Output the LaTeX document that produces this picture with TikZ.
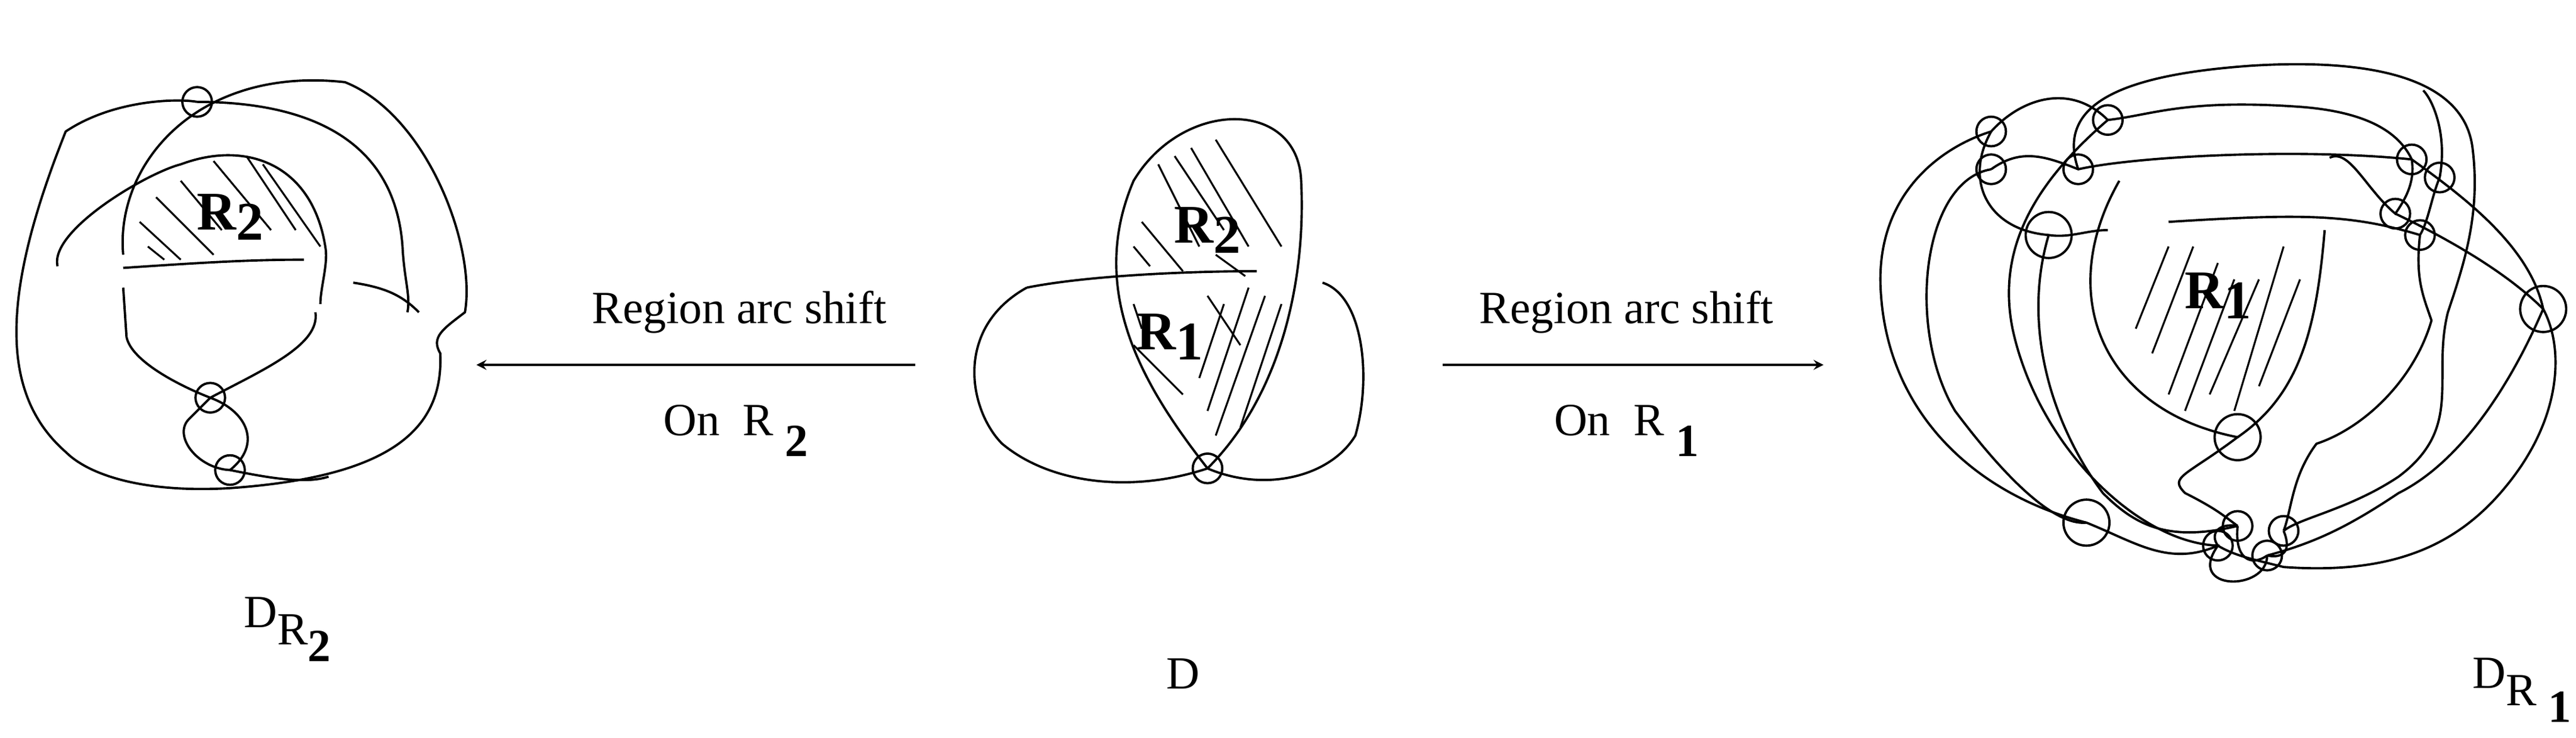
\documentclass[tikz,border=0pt]{standalone}
\usepackage{fontspec}
\setmainfont{Liberation Serif}
\begin{document}
\begin{tikzpicture}[x=0.02757cm,y=-0.02757cm,line width=1.1pt,
  lbl/.style={font=\fontsize{22}{26}\selectfont},
  rl/.style={font=\bfseries\fontsize{26}{30}\selectfont},
  hatch/.style={line width=0.9pt}]
\useasboundingbox (0,0) rectangle (1568,449);
% ---------- left diagram D_R2
\foreach \n/\x/\y in {a1/120/62, a2/128/242, a3/140/286}
  {\coordinate (\n) at (\x,\y); \draw (\n) circle[radius=9];}
\draw (75,155) .. controls (70,100) and (120,40) .. (210,50)
  .. controls (260,70) and (290,150) .. (283,190)
  .. controls (270,200) and (262,205) .. (268,215)
  .. controls (270,260) and (240,290) .. (140,297)
  .. controls (90,300) and (55,290) .. (40,275)
  .. controls (0,240) and (0,180) .. (40,80)
  .. controls (70,60) and (110,60) .. (a1);
\draw (a1) .. controls (180,62) and (240,80) .. (245,150)
  .. controls (246,170) and (250,180) .. (248,190);
\draw (35,162) .. controls (30,140) and (90,105) .. (110,100)
  .. controls (150,85) and (190,100) .. (198,150)
  .. controls (200,160) and (195,175) .. (195,185);
\draw (75,163) .. controls (120,160) and (150,158) .. (185,158);
\draw (215,172) .. controls (235,175) and (245,180) .. (255,190);
\draw (75,175) -- (77,205) .. controls (80,220) and (110,235) .. (a2)
  .. controls (150,250) and (160,270) .. (a3)
  .. controls (120,285) and (105,265) .. (115,255)
  .. controls (120,250) and (125,245) .. (a2);
\draw (a2) .. controls (160,225) and (195,210) .. (192,190);
\draw (a3) .. controls (160,290) and (185,295) .. (200,290);
\foreach \x/\y/\u/\v in {110/110/135/140, 95/120/130/155, 85/135/110/158, 130/98/165/140, 150/95/180/140, 160/100/195/150, 90/150/100/158}
  \draw[hatch] (\x,\y) -- (\u,\v);
\node[rl] (r2a) at (140,132) {R\raisebox{-0.4ex}{2}};
\node[lbl] (la) at (175,383) {D\raisebox{-0.8ex}{R\raisebox{-0.8ex}{\bfseries 2}}};
% ---------- middle D
\coordinate (m1) at (735,285); \draw (m1) circle[radius=9];
\draw (m1) .. controls (700,240) and (660,180) .. (690,110)
  .. controls (720,60) and (790,60) .. (792,110)
  .. controls (795,170) and (780,240) .. (m1);
\draw (625,175) .. controls (660,168) and (720,165) .. (765,165);
\draw (625,175) .. controls (580,200) and (590,250) .. (610,270)
  .. controls (640,295) and (690,300) .. (m1);
\draw (805,172) .. controls (830,180) and (835,230) .. (825,265)
  .. controls (810,290) and (770,300) .. (m1);
\foreach \x/\y/\u/\v in {705/100/730/150, 715/95/745/140, 725/90/760/150, 740/85/780/150, 695/135/720/165, 690/150/700/162, 740/155/758/168,
  690/185/695/200, 690/210/720/240, 735/180/755/210, 745/185/730/230, 760/175/735/250, 770/180/740/265, 780/185/755/260}
  \draw[hatch] (\x,\y) -- (\u,\v);
\node[rl] (r2m) at (735,140) {R\raisebox{-0.4ex}{2}};
\node[rl] (r1m) at (712,205) {R\raisebox{-0.4ex}{1}};
\node[lbl] (lm) at (720,410) {D};
% ---------- arrows
\coordinate (ls) at (557,222); \coordinate (le) at (290,222);
\coordinate (rs) at (878,222); \coordinate (re) at (1110,222);
\draw[-stealth] (ls) -- (le);
\draw[-stealth] (rs) -- (re);
\node[lbl] (t1) at (450,190) {Region arc shift};
\node[lbl] (t2) at (448,262) {On\ \ R\raisebox{-1ex}{\ \bfseries 2}};
\node[lbl] (t3) at (990,190) {Region arc shift};
\node[lbl] (t4) at (990,262) {On\ \ R\raisebox{-1ex}{\ \bfseries 1}};
% ---------- right diagram D_R1
\foreach \n/\x/\y in {b1/1212/80, b2/1283/73, b3/1212/103, b4/1265/103, b6/1468/97, b7/1485/108, b8/1458/130, b9/1473/143, b12/1362/320, b13/1390/323, b14/1350/332, b15/1380/338}
  {\coordinate (\n) at (\x,\y); \draw (\n) circle[radius=9];}
\foreach \n/\x/\y in {b5/1247/143, b10/1548/188, b11/1362/266, b16/1270/318}
  {\coordinate (\n) at (\x,\y); \draw (\n) circle[radius=14];}
\draw (b1) .. controls (1230,60) and (1260,50) .. (b2)
  .. controls (1310,70) and (1330,60) .. (1400,65)
  .. controls (1440,68) and (1460,80) .. (b6)
  .. controls (1500,120) and (1540,150) .. (b10)
  .. controls (1560,210) and (1560,250) .. (1530,290)
  .. controls (1500,330) and (1460,350) .. (1390,345)
  .. controls (1370,340) and (1360,338) .. (b14)
  .. controls (1320,345) and (1300,330) .. (b16)
  .. controls (1200,300) and (1150,250) .. (1145,180)
  .. controls (1140,120) and (1180,90) .. (b1);
\draw (b1) .. controls (1195,110) and (1210,140) .. (b5)
  .. controls (1260,145) and (1270,140) .. (1283,140);
\draw (b3) .. controls (1170,110) and (1160,200) .. (1190,250)
  .. controls (1220,290) and (1250,320) .. (b16);
\draw (b3) .. controls (1230,90) and (1245,95) .. (b4)
  .. controls (1300,95) and (1400,90) .. (b6);
\draw (b2) .. controls (1240,110) and (1215,150) .. (1225,200)
  .. controls (1240,270) and (1300,330) .. (b14)
  .. controls (1330,360) and (1380,360) .. (b15);
\draw (b4) .. controls (1250,60) and (1300,45) .. (1370,40)
  .. controls (1450,35) and (1500,50) .. (1505,90)
  .. controls (1510,130) and (1500,160) .. (1490,190)
  .. controls (1480,230) and (1500,260) .. (1460,290)
  .. controls (1430,310) and (1400,315) .. (b13);
\draw (b5) .. controls (1230,200) and (1250,260) .. (1280,300)
  .. controls (1300,320) and (1320,330) .. (b12);
\draw (b6) .. controls (1470,110) and (1465,120) .. (b8)
  .. controls (1440,115) and (1430,90) .. (1418,96);
\draw (b7) .. controls (1490,80) and (1480,60) .. (1475,55);
\draw (b7) .. controls (1480,120) and (1478,135) .. (b9)
  .. controls (1470,170) and (1475,180) .. (1480,195)
  .. controls (1470,230) and (1440,260) .. (1410,270)
  .. controls (1395,290) and (1395,310) .. (b13);
\draw (b8) .. controls (1500,150) and (1530,170) .. (b10)
  .. controls (1530,230) and (1500,280) .. (1460,300)
  .. controls (1430,320) and (1410,330) .. (b15);
\draw (b9) .. controls (1430,130) and (1400,130) .. (1320,135);
\draw (1290,110) .. controls (1250,180) and (1280,250) .. (b11)
  .. controls (1330,290) and (1320,290) .. (1330,300)
  .. controls (1350,310) and (1355,315) .. (b12);
\draw (b11) .. controls (1400,240) and (1410,200) .. (1415,140);
\draw (b12) .. controls (1360,340) and (1370,345) .. (b15);
\draw (b13) .. controls (1395,335) and (1390,340) .. (b15);
\draw (b14) .. controls (1345,325) and (1350,318) .. (b12);
\foreach \x/\y/\u/\v in {1320/150/1300/200, 1335/150/1310/215, 1350/160/1320/240, 1360/170/1330/250, 1375/170/1345/240, 1390/150/1360/250, 1400/170/1375/235}
  \draw[hatch] (\x,\y) -- (\u,\v);
\node[rl] (r1r) at (1350,180) {R\raisebox{-0.4ex}{1}};
\node[lbl] (lr) at (1535,420) {D\raisebox{-0.8ex}{R\raisebox{-0.8ex}{\ \bfseries 1}}};
\end{tikzpicture}
\end{document}
